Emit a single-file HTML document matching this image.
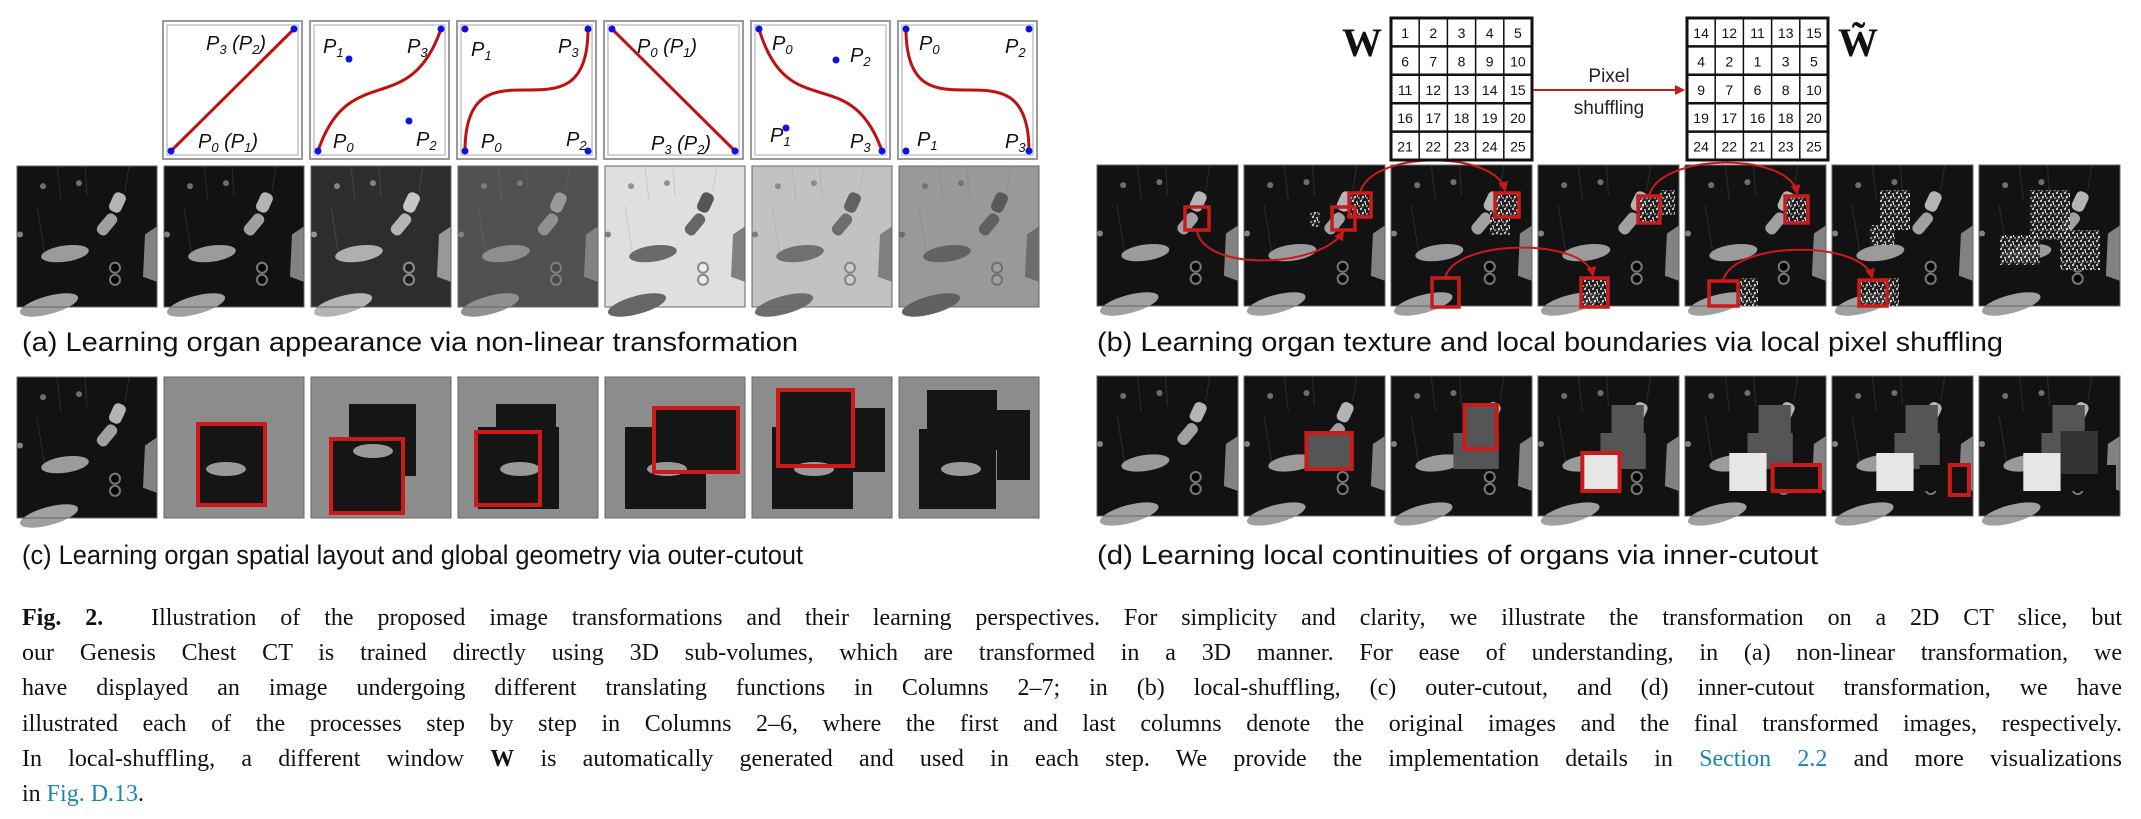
<!DOCTYPE html>
<html><head><meta charset="utf-8">
<style>
html,body{margin:0;padding:0;background:#fff;}
body{width:2141px;height:819px;position:relative;overflow:hidden;}
#fig{position:absolute;left:0;top:0;}
#caption{position:absolute;left:22px;top:601px;width:2100px;font-family:"Liberation Serif",serif;font-size:24px;line-height:35.2px;color:#111;}
#caption .ln{text-align:justify;text-align-last:justify;white-space:nowrap;height:35.2px;}
#caption .last{text-align-last:left;}
#caption a{color:#1a86b3;text-decoration:none;}
</style></head>
<body>
<svg id="fig" width="2141" height="590" viewBox="0 0 2141 590" xmlns="http://www.w3.org/2000/svg">
<defs>
<pattern id="noise" width="8" height="8" patternUnits="userSpaceOnUse">
<rect width="8" height="8" fill="#222"/>
<rect x="0" y="0" width="2" height="2" fill="#ddd"/><rect x="4" y="1" width="2" height="2" fill="#bbb"/>
<rect x="2" y="4" width="2" height="2" fill="#eee"/><rect x="6" y="5" width="2" height="2" fill="#999"/>
<rect x="1" y="6" width="2" height="2" fill="#777"/><rect x="5" y="3" width="1" height="2" fill="#fff"/>
</pattern>
<marker id="arr" viewBox="0 0 10 10" refX="8" refY="5" markerWidth="5" markerHeight="5" orient="auto"><path d="M0,0 L10,5 L0,10 z" fill="#c81818"/></marker>
</defs>
</svg>
<div id="caption">
<div class="ln"><b>Fig. 2.</b>&nbsp; Illustration of the proposed image transformations and their learning perspectives. For simplicity and clarity, we illustrate the transformation on a 2D CT slice, but</div>
<div class="ln">our Genesis Chest CT is trained directly using 3D sub-volumes, which are transformed in a 3D manner. For ease of understanding, in (a) non-linear transformation, we</div>
<div class="ln">have displayed an image undergoing different translating functions in Columns 2–7; in (b) local-shuffling, (c) outer-cutout, and (d) inner-cutout transformation, we have</div>
<div class="ln">illustrated each of the processes step by step in Columns 2–6, where the first and last columns denote the original images and the final transformed images, respectively.</div>
<div class="ln">In local-shuffling, a different window <b>W</b> is automatically generated and used in each step. We provide the implementation details in <a href="#">Section 2.2</a> and more visualizations</div>
<div class="ln last">in <a href="#">Fig. D.13</a>.</div>
</div>
<script>
const NS='http://www.w3.org/2000/svg';
const svg=document.getElementById('fig');
function el(tag,attrs,parent){const e=document.createElementNS(NS,tag);for(const k in attrs)e.setAttribute(k,attrs[k]);(parent||svg).appendChild(e);return e;}
function g2(v){v=Math.max(0,Math.min(255,Math.round(v)));return 'rgb('+v+','+v+','+v+')';}
const RED='#cc1a1a';

const leftX=[17,164,311,458,605,752,899];
const rightX=[1097,1244,1391,1538,1685,1832,1979];
const curveX=[162,309,456,603,750,897];

function ct(x,y,w,h,map,name){
  const g=el('g',{transform:'translate('+x+','+y+') scale('+(w/140)+','+(h/140)+')'});
  
  
  el('rect',{x:0,y:0,width:140,height:140,fill:g2(map(18))},g);
  el('path',{d:'M40,0 L44,35 M68,0 L70,30 M112,0 L108,25 M20,40 L28,90',stroke:g2(map(40)),'stroke-width':1.2,fill:'none'},g);
  el('circle',{cx:26,cy:20,r:3,fill:g2(map(110))},g);
  el('circle',{cx:62,cy:17,r:3,fill:g2(map(110))},g);
  el('circle',{cx:3,cy:68,r:3,fill:g2(map(130))},g);
  el('ellipse',{cx:48,cy:87,rx:24,ry:8,fill:g2(map(155)),transform:'rotate(-8 48 87)'},g);
  el('rect',{x:94,y:26,width:13,height:20,rx:5,fill:g2(map(180)),transform:'rotate(25 100 36)'},g);
  el('rect',{x:84,y:46,width:12,height:24,rx:5,fill:g2(map(160)),transform:'rotate(40 90 58)'},g);
  el('path',{d:'M128,68 L140,60 L140,115 L126,110 z',fill:g2(map(130))},g);
  el('circle',{cx:98,cy:101,r:5,fill:g2(map(3)),stroke:g2(map(120)),'stroke-width':2},g);
  el('circle',{cx:98,cy:113,r:5,fill:g2(map(3)),stroke:g2(map(120)),'stroke-width':2},g);
  el('ellipse',{cx:32,cy:138,rx:30,ry:9,fill:g2(map(160)),transform:'rotate(-15 32 138)'},g);
  el('rect',{x:0,y:0,width:140,height:140,fill:'none',stroke:'#666','stroke-width':1},g);
  return g;
}

/* ---------- (a) curve boxes ---------- */
const BL=[9,131],TR=[132,9],TL=[9,9],BR=[132,131];
const curvePaths=[
 'M9,131 L132,9',
 'M9,131 C40,39 100,101 132,9',
 'M9,131 C9,9 132,131 132,9',
 'M9,9 L132,131',
 'M9,9 C38,106 100,40 132,131',
 'M9,9 C9,131 132,9 132,131'];
const curveDots=[
 [BL,TR],[BL,[40,39],[100,101],TR],[BL,TL,BR,TR],[TL,BR],[TL,[36,108],[86,40],BR],[TL,BL,TR,BR]];
const curveLabels=[
 [['3','2',44,30],['0','1',36,128]],
 [['1',null,14,33],['3',null,98,33],['0',null,24,128],['2',null,107,126]],
 [['1',null,15,36],['3',null,102,33],['0',null,25,128],['2',null,110,126]],
 [['0','1',34,33],['3','2',48,130]],
 [['0',null,22,30],['2',null,100,42],['1',null,20,122],['3',null,100,128]],
 [['0',null,22,30],['2',null,108,33],['1',null,20,126],['3',null,108,128]]];
curveX.forEach((cx,i)=>{
  const g=el('g',{transform:'translate('+cx+',20)'});
  
  
  el('rect',{x:1,y:1,width:139,height:138,fill:'#fff',stroke:'#9a9a9a','stroke-width':2},g);
  el('rect',{x:5,y:5,width:131,height:130,fill:'#fff',stroke:'#c4c4c4','stroke-width':1.5},g);
  const p=el('path',{d:curvePaths[i],stroke:'#c01010','stroke-width':3,fill:'none'},g);
  
  
  curveDots[i].forEach(d=>{
    const c=el('circle',{cx:d[0],cy:d[1],r:3.5,fill:'#1010e0'},g);
    
    
  });
  curveLabels[i].forEach(L=>{
    const t=el('text',{x:L[2],y:L[3],'font-family':'Liberation Sans, sans-serif','font-size':20,'font-style':'italic',fill:'#111'},g);
    
    
    t.appendChild(document.createTextNode('P'));
    const s=el('tspan',{'font-size':13,dy:4},t);s.textContent=L[0];
    if(L[1]){const a=el('tspan',{'font-size':20,dy:-4},t);a.textContent=' (P';
      const b=el('tspan',{'font-size':13,dy:4},t);b.textContent=L[1];
      const c=el('tspan',{'font-size':20,dy:-4},t);c.textContent=')';}
  });
});

/* ---------- (a) images ---------- */
const aMaps=[v=>v,v=>v,v=>28+v*0.95,v=>72+v*0.45,v=>238-v*0.85,v=>205-v*0.6,v=>160-v*0.4];
leftX.forEach((x,i)=>{ct(x,166,140,141,aMaps[i],'nonlinear-image-'+(i+1));});

/* ---------- (c) outer cutout ---------- */
const cDark=[[],[[34,47,67,81]],[[38,27,67,72],[20,62,72,74]],[[20,50,81,82],[38,27,60,40]],[[20,50,81,82],[49,31,84,64]],[[20,50,81,82],[49,31,84,64],[26,13,75,76]],[[20,52,77,80],[28,13,70,60],[98,33,33,70]]];
const cRed=[null,[34,47,67,81],[20,62,72,74],[18,55,64,73],[49,31,84,64],[26,13,75,76],null];
leftX.forEach((x,i)=>{
  if(i===0){ct(x,377,140,141,v=>v,'outer-cutout-image-1');return;}
  const g=el('g',{transform:'translate('+x+',377)'});
  
  
  el('rect',{x:0,y:0,width:140,height:141,fill:'#8c8c8c',stroke:'#666','stroke-width':1},g);
  cDark[i].forEach(r=>{
    const d=el('rect',{x:r[0],y:r[1],width:r[2],height:r[3],fill:'#151515'},g);
    
    
  });
  if(cDark[i].length){const r=cDark[i][0];
    el('ellipse',{cx:Math.min(r[0]+r[2]-20,62),cy:Math.min(r[1]+r[3]-25,92),rx:20,ry:7,fill:'#999'},g);}
  if(cRed[i]){const r=cRed[i];
    const b=el('rect',{x:r[0],y:r[1],width:r[2],height:r[3],fill:'none',stroke:RED,'stroke-width':4},g);
    
    }
});

/* ---------- (b) local shuffling ---------- */
rightX.forEach((x,i)=>{ct(x,165,141,141,v=>v,'shuffle-image-'+(i+1));});
const noiseBoxes=[[1349,193,22,24],[1495,193,24,24],[1490,210,20,25],[1638,196,22,27],[1660,190,15,25],[1785,196,23,27],[1581,278,27,29],[1740,278,18,28],[1859,280,28,26],[1887,278,12,28],[1880,190,30,40],[1870,225,25,20],[2030,190,40,50],[2060,230,40,40],[2000,235,40,30],[1310,212,10,15]];
noiseBoxes.forEach(r=>{const n=el('rect',{x:r[0],y:r[1],width:r[2],height:r[3],fill:'url(#noise)',opacity:0.85});
  
  });
const bBoxes=[[1185,207,24,23],[1332,207,23,23],[1349,193,22,24],[1495,193,24,24],[1432,278,27,29],[1638,196,22,27],[1581,278,27,29],[1785,196,23,27],[1709,281,29,25],[1859,280,28,26]];
bBoxes.forEach(r=>{const b=el('rect',{x:r[0],y:r[1],width:r[2],height:r[3],fill:'none',stroke:RED,'stroke-width':3.5});
  
  });
const arcs=['M1197,231 C1205,272 1320,268 1343,232','M1360,193 C1370,150 1495,150 1505,190','M1445,278 C1455,238 1585,238 1593,275','M1649,196 C1660,152 1790,152 1797,193','M1723,281 C1733,240 1862,240 1872,277'];
arcs.forEach(d=>{const a=el('path',{d:d,fill:'none',stroke:RED,'stroke-width':2,'marker-end':'url(#arr)'});
  
  });

/* W grids */
const wVals=[1,2,3,4,5,6,7,8,9,10,11,12,13,14,15,16,17,18,19,20,21,22,23,24,25];
const wtVals=[14,12,11,13,15,4,2,1,3,5,9,7,6,8,10,19,17,16,18,20,24,22,21,23,25];
function grid(x0,vals,name){
  const g=el('g',{transform:'translate('+x0+',18)'});
  
  
  el('rect',{x:0,y:0,width:141,height:142,fill:'#fff',stroke:'#111','stroke-width':3},g);
  for(let k=1;k<5;k++){
    el('line',{x1:k*28.2,y1:0,x2:k*28.2,y2:142,stroke:'#111','stroke-width':1.5},g);
    el('line',{x1:0,y1:k*28.4,x2:141,y2:k*28.4,stroke:'#111','stroke-width':2.5},g);
  }
  vals.forEach((v,j)=>{const t=el('text',{x:(j%5)*28.2+14.1,y:Math.floor(j/5)*28.4+20,'text-anchor':'middle','font-family':'Liberation Sans Narrow, Liberation Sans, sans-serif','font-size':14,fill:'#111'},g);
    
    
    t.textContent=v;});
}
grid(1391,wVals,'window-grid-w');
grid(1687,wtVals,'window-grid-w-shuffled');
const wl=el('text',{x:1342,y:56,'font-family':'Liberation Serif, serif','font-size':40,'font-weight':'bold',fill:'#111'});


wl.textContent='W';
const wt=el('text',{x:1838,y:56,'font-family':'Liberation Serif, serif','font-size':40,'font-weight':'bold',fill:'#111'});


wt.textContent='W̃';
const ar=el('path',{d:'M1533,90 L1683,90',stroke:RED,'stroke-width':2,'marker-end':'url(#arr)'});


const pt1=el('text',{x:1609,y:82,'text-anchor':'middle','font-family':'Liberation Sans, sans-serif','font-size':19,fill:'#222'});


pt1.textContent='Pixel';
const pt2=el('text',{x:1609,y:114,'text-anchor':'middle','font-family':'Liberation Sans, sans-serif','font-size':19,fill:'#222'});


pt2.textContent='shuffling';

/* ---------- (d) inner cutout ---------- */
const dA=[62,57,45,36,'#555'],dB=[73,29,32,44,'#555'],dC=[44,77,37,38,'#e6e6e6'],dD=[87,89,47,26,'#111'],dE=[117,89,19,30,'#111'],dF=[81,55,37,43,'#333'];
const dRects=[[],[dA],[dA,dB],[dA,dB,dC],[dA,dB,dC,dD],[dA,dB,dC,dD,dE],[dA,dB,dC,dD,dE,dF]];
const dRed=[null,dA,dB,dC,dD,dE,null];
rightX.forEach((x,i)=>{
  const g=ct(x,376,141,140,v=>v,'inner-cutout-image-'+(i+1));
  dRects[i].forEach(r=>{const q=el('rect',{x:r[0],y:r[1],width:r[2],height:r[3],fill:r[4]},g);
    
    });
  if(dRed[i]){const r=dRed[i];const b=el('rect',{x:r[0],y:r[1],width:r[2],height:r[3],fill:'none',stroke:RED,'stroke-width':4},g);
    
    }
});

/* ---------- panel captions ---------- */
const caps=[[22,351,'(a) Learning organ appearance via non-linear transformation','caption-a',776],
 [1097,351,'(b) Learning organ texture and local boundaries via local pixel shuffling','caption-b',906],
 [22,564,'(c) Learning organ spatial layout and global geometry via outer-cutout','caption-c',781],
 [1097,564,'(d) Learning local continuities of organs via inner-cutout','caption-d',721]];
caps.forEach(c=>{const t=el('text',{x:c[0],y:c[1],'font-family':'Liberation Sans, sans-serif','font-size':27,fill:'#111',textLength:c[4],lengthAdjust:'spacingAndGlyphs'});
  
  
  t.textContent=c[2];});
</script>
</body></html>
